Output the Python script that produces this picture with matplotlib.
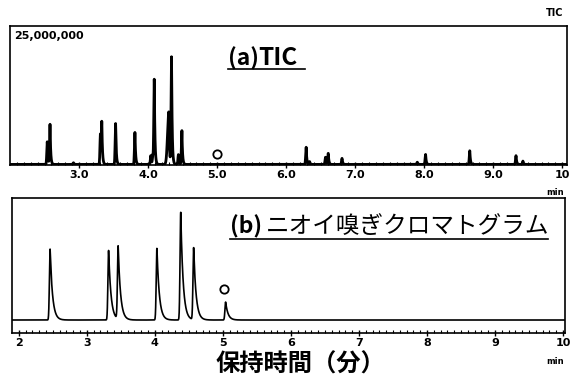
import numpy as np
import matplotlib
matplotlib.use("Agg")
import matplotlib.pyplot as plt
from matplotlib.lines import Line2D

plt.rcParams['font.family'] = ['Noto Sans CJK JP', 'DejaVu Sans']

# (a) TIC peaks: retention time (min), height (counts)
tic_rt = [2.54, 2.58, 2.92, 3.31, 3.33, 3.53, 3.81, 4.04, 4.07, 4.09, 4.30, 4.34,
          4.44, 4.49, 6.29, 6.34, 6.57, 6.61, 6.81, 7.90, 8.02, 8.66, 9.33, 9.43]
tic_height = [4.1e6, 7.2e6, 0.3e6, 5.5e6, 7.2e6, 7.4e6, 5.8e6, 1.6e6, 1.6e6, 15.3e6, 9.5e6, 19.4e6,
              1.8e6, 6.1e6, 3.1e6, 0.5e6, 1.3e6, 2.0e6, 1.1e6, 0.4e6, 1.8e6, 2.5e6, 1.6e6, 0.6e6]

# (b) sniffing chromatogram peaks: retention time (min), relative response
sniff_rt = [2.46, 3.32, 3.46, 4.03, 4.38, 4.57, 5.04]
sniff_height = [71, 70, 73, 72, 108, 72, 18]

tic_ticks = [3, 4, 5, 6, 7, 8, 9, 10]
tic_labels = ["3.0", "4.0", "5.0", "6.0", "7.0", "8.0", "9.0", "10"]
sniff_ticks = [2, 3, 4, 5, 6, 7, 8, 9, 10]
sniff_labels = ["2", "3", "4", "5", "6", "7", "8", "9", "10"]


def peak(t, rt, h, sig, tau):
    left = h * np.exp(-0.5 * ((t - rt) / sig) ** 2)
    right = h * np.exp(-(t - rt) / tau)
    return np.where(t < rt, left, right)


fig = plt.figure(figsize=(5.72, 3.81), dpi=100)

# ---- top: TIC
ax1 = fig.add_axes([0.0175, 0.567, 0.974, 0.365])
t1 = np.linspace(2.0, 10.07, 6000)
y1 = np.zeros_like(t1)
for rt, h in zip(tic_rt, tic_height):
    sig = 0.018 if rt == 4.30 else 0.007
    y1 += peak(t1, rt, h, sig, 0.009)
ax1.plot(t1, y1, color="black", lw=2.0)
ax1.plot([5.0], [1.8e6], marker="o", ms=6, mfc="white", mec="black", mew=1.3)
ax1.set_xlim(2.0, 10.07)
ax1.set_ylim(-0.1e6, 25e6)
ax1.set_xticks(tic_ticks)
ax1.set_xticklabels(tic_labels, fontsize=8, fontweight="bold", family="DejaVu Sans")
ax1.set_xticks(np.arange(2.1, 10.0, 0.1), minor=True)
ax1.set_yticks([])
ax1.tick_params(axis="x", which="major", direction="inout", length=5, width=1, pad=1)
ax1.tick_params(axis="x", which="minor", direction="in", length=2, width=0.8)
for s in ax1.spines.values():
    s.set_linewidth(1.2)
ax1.text(0.008, 0.965, "25,000,000", transform=ax1.transAxes, fontsize=8,
         fontweight="bold", family="DejaVu Sans", ha="left", va="top")
fig.text(0.985, 0.952, "TIC", fontsize=7, fontweight="bold", family="DejaVu Sans",
         ha="right", va="bottom")
fig.text(0.985, 0.507, "min", fontsize=6, family="DejaVu Sans", fontweight="bold", ha="right", va="top")

# ---- bottom: sniffing chromatogram
ax2 = fig.add_axes([0.021, 0.126, 0.967, 0.354])
t2 = np.linspace(1.9, 10.03, 6000)
y2 = np.zeros_like(t2)
for rt, h in zip(sniff_rt, sniff_height):
    y2 += peak(t2, rt, h, 0.01, 0.035)
ax2.plot(t2, y2, color="black", lw=1.2)
ax2.plot([5.02], [31], marker="o", ms=6, mfc="white", mec="black", mew=1.3)
ax2.set_xlim(1.9, 10.03)
ax2.set_ylim(-13, 122)
ax2.set_xticks(sniff_ticks)
ax2.set_xticklabels(sniff_labels, fontsize=8, fontweight="bold", family="DejaVu Sans")
ax2.set_xticks(np.arange(2.1, 10.0, 0.1), minor=True)
ax2.set_yticks([])
ax2.tick_params(axis="x", which="major", direction="inout", length=5, width=1, pad=1)
ax2.tick_params(axis="x", which="minor", direction="in", length=2, width=0.8)
for s in ax2.spines.values():
    s.set_linewidth(1.2)
fig.text(0.985, 0.062, "min", fontsize=6, family="DejaVu Sans", fontweight="bold", ha="right", va="top")

# ---- panel titles with underline
fig.text(0.399, 0.829, "(a)", fontsize=16.5, fontweight="bold", ha="left", va="baseline")
fig.text(0.451, 0.829, "TIC", fontsize=17.5, fontweight="bold", ha="left", va="baseline")
fig.add_artist(Line2D([0.399, 0.533], [0.819, 0.819], color="black", lw=1.2))

fig.text(0.402, 0.388, "(b)", fontsize=16.5, fontweight="bold", ha="left", va="baseline")
fig.text(0.465, 0.388, "ニオイ嗅ぎクロマトグラム", fontsize=17, ha="left", va="baseline")
fig.add_artist(Line2D([0.402, 0.958], [0.374, 0.374], color="black", lw=1.2))

fig.text(0.525, 0.042, "保持時間（分）", fontsize=17.5, fontweight="bold", ha="center", va="center")

fig.savefig("out.png", dpi=100)
